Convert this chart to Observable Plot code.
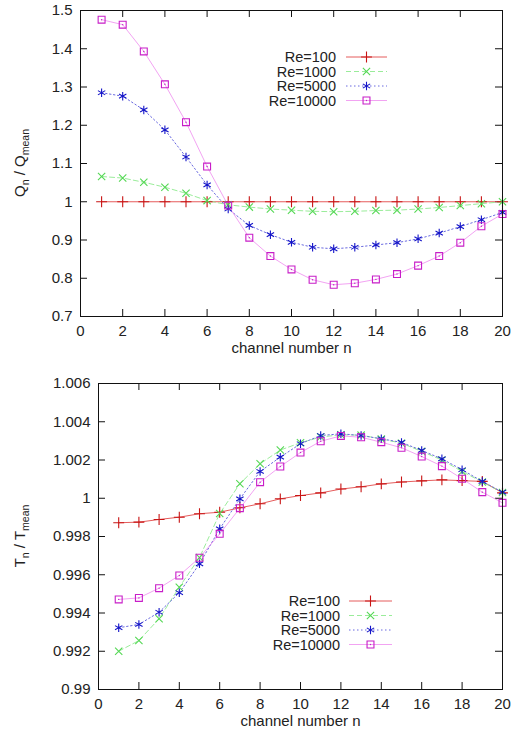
<!DOCTYPE html>
<html><head><meta charset="utf-8">
<script src="https://cdn.jsdelivr.net/npm/d3@7"></script>
<script src="https://cdn.jsdelivr.net/npm/@observablehq/plot@0.6"></script>
<style>
body{margin:0;background:#fff}
#chart svg{display:block}
</style>
</head><body><div id="chart"></div>
<script>
// ---- data ----
const channels = [1,2,3,4,5,6,7,8,9,10,11,12,13,14,15,16,17,18,19,20];
const seriesNames = ["Re=100","Re=1000","Re=5000","Re=10000"];

const qRe100   = [1.000,1.000,1.000,1.000,1.000,1.000,1.000,1.000,1.000,1.000,1.000,1.000,1.000,1.000,1.000,1.000,1.000,1.000,1.000,1.000];
const qRe1000  = [1.066,1.062,1.051,1.038,1.022,1.003,0.992,0.986,0.981,0.978,0.975,0.974,0.975,0.977,0.978,0.981,0.985,0.990,0.995,1.000];
const qRe5000  = [1.285,1.276,1.240,1.188,1.117,1.044,0.981,0.938,0.914,0.894,0.881,0.877,0.881,0.887,0.893,0.903,0.918,0.935,0.953,0.972];
const qRe10000 = [1.476,1.463,1.393,1.307,1.208,1.092,0.990,0.906,0.858,0.823,0.796,0.783,0.787,0.797,0.811,0.833,0.858,0.893,0.936,0.968];

const tRe100   = [0.99872,0.99875,0.99889,0.99901,0.99919,0.99927,0.99950,0.99971,0.99997,1.00014,1.00028,1.00048,1.00060,1.00075,1.00085,1.00091,1.00096,1.00092,1.00088,1.00028];
const tRe1000  = [0.99200,0.99256,0.99370,0.99535,0.99690,0.99920,1.00076,1.00180,1.00252,1.00290,1.00320,1.00332,1.00330,1.00310,1.00288,1.00245,1.00200,1.00140,1.00085,1.00030];
const tRe5000  = [0.99323,0.99340,0.99404,0.99506,0.99657,0.99840,0.99997,1.00140,1.00215,1.00285,1.00328,1.00337,1.00328,1.00311,1.00292,1.00250,1.00206,1.00149,1.00088,1.00032];
const tRe10000 = [0.99471,0.99479,0.99530,0.99596,0.99689,0.99814,0.99948,1.00084,1.00166,1.00239,1.00298,1.00326,1.00319,1.00293,1.00264,1.00218,1.00168,1.00102,1.00032,0.99976];

const xTicks = [0,2,4,6,8,10,12,14,16,18,20];
const qTicks = [0.7,0.8,0.9,1.0,1.1,1.2,1.3,1.4,1.5];
const tTicks = [0.990,0.992,0.994,0.996,0.998,1.000,1.002,1.004,1.006];
const xLabel = "channel number n";

// ---- styles ----
const styles = [
  {symbol:"plus",     r:3.6, marker:"#c81414", line:"#e24a4a", dash:null,      lw:0.9},
  {symbol:"times",    r:3.4, marker:"#55d855", line:"#8fea8f", dash:"5,3",     lw:0.9},
  {symbol:"asterisk", r:4.0, marker:"#1515c8", line:"#6a6ae0", dash:"1.5,2.5", lw:1.0},
  {symbol:"square2",  r:4.4, marker:"#c81ec8", line:"#ef8cef", dash:null,      lw:0.8}
];
const font = "'Liberation Sans', Arial, Helvetica, sans-serif";
const W = 518, MR = 16;

function rowsOf(arrs){
  const rows = [];
  arrs.forEach((arr,i)=>arr.forEach((v,j)=>rows.push({s:i, n:channels[j], v})));
  return rows;
}

function panel(o){
  const rows = rowsOf(o.series);
  const fh = o.height - o.marginTop - o.marginBottom;
  const fw = W - o.marginLeft - MR;
  const marks = [
    Plot.axisX(xTicks, {tickSize:0, tickPadding:9, label:null}),
    Plot.axisY(o.yTicks, {tickSize:0, tickPadding:8, label:null, tickFormat: d => String(+d.toFixed(3))}),
    Plot.tickX(xTicks, {x:d=>d, insetTop: fh-7, stroke:"#111"}),
    Plot.tickX(xTicks, {x:d=>d, insetBottom: fh-7, stroke:"#111"}),
    Plot.tickY(o.yTicks, {y:d=>d, insetRight: fw-7, stroke:"#111"}),
    Plot.tickY(o.yTicks, {y:d=>d, insetLeft: fw-7, stroke:"#111"}),
    Plot.text([xLabel], {frameAnchor:"bottom", dy:36, fontSize:15, fill:"#222"})
  ];
  styles.forEach((st,i)=>{
    const d = rows.filter(r=>r.s===i);
    marks.push(Plot.line(d, {x:"n", y:"v", stroke:st.line, strokeWidth:st.lw, strokeDasharray:st.dash}));
  });
  styles.forEach((st,i)=>{
    const d = rows.filter(r=>r.s===i);
    marks.push(Plot.dot(d, {x:"n", y:"v", symbol:()=>st.symbol, r:st.r, stroke:st.marker, fill:"none", strokeWidth:1.1}));
    if (st.symbol==="square2") marks.push(Plot.dot(d, {x:"n", y:"v", r:0.7, fill:st.marker, stroke:"none"}));
  });
  marks.push(Plot.frame({stroke:"#111", strokeWidth:1}));
  const svg = Plot.plot({
    width: W, height: o.height,
    marginLeft: o.marginLeft, marginRight: MR, marginTop: o.marginTop, marginBottom: o.marginBottom,
    x: {domain:[0,20]},
    y: {domain:o.yDomain},
    symbol: {type:"identity"},
    style: {fontFamily: font, fontSize:"15px", color:"#222", background:"#fff"},
    marks
  });
  const s = d3.select(svg);
  // y label with subscripts
  const mid = o.marginTop + fh/2;
  const t = s.append("text")
    .attr("transform", `translate(25,${mid}) rotate(-90)`)
    .attr("text-anchor","middle").attr("fill","#222")
    .style("font-family", font).style("font-size","15px");
  t.append("tspan").text(o.yLetter);
  t.append("tspan").attr("dy",4).style("font-size","10.5px").text("n");
  t.append("tspan").attr("dy",-4).text(" / " + o.yLetter);
  t.append("tspan").attr("dy",4).style("font-size","10.5px").text("mean");
  // legend
  const lg = s.append("g").style("font-family",font).style("font-size","14.5px");
  const symMap = {plus:d3.symbolPlus, times:d3.symbolTimes, asterisk:d3.symbolAsterisk, square2:d3.symbolSquare2};
  seriesNames.forEach((name,i)=>{
    const st = styles[i];
    const y = o.legend.y0 + i*o.legend.dy;
    lg.append("text").attr("x",o.legend.textX).attr("y",y).attr("dy","0.35em")
      .attr("text-anchor","end").attr("fill","#222").text(name);
    lg.append("line").attr("x1",o.legend.x1).attr("x2",o.legend.x2).attr("y1",y).attr("y2",y)
      .attr("stroke",st.line).attr("stroke-width",st.lw).attr("stroke-dasharray",st.dash);
    lg.append("path").attr("transform",`translate(${(o.legend.x1+o.legend.x2)/2},${y})`)
      .attr("d", d3.symbol(symMap[st.symbol], Math.PI*st.r*st.r)())
      .attr("fill","none").attr("stroke",st.marker).attr("stroke-width",1.1);
    if (st.symbol==="square2") lg.append("circle").attr("cx",(o.legend.x1+o.legend.x2)/2).attr("cy",y).attr("r",0.7).attr("fill",st.marker);
  });
  return svg;
}

const topPanel = panel({
  series:[qRe100,qRe1000,qRe5000,qRe10000], yDomain:[0.7,1.5], yTicks:qTicks,
  marginLeft:80, marginTop:10, marginBottom:54, height:370, yLetter:"Q",
  legend:{textX:336, x1:346, x2:387, y0:57, dy:14.5}
});
const bottomPanel = panel({
  series:[tRe100,tRe1000,tRe5000,tRe10000], yDomain:[0.990,1.006], yTicks:tTicks,
  marginLeft:98, marginTop:13, marginBottom:46, height:365, yLetter:"T",
  legend:{textX:340, x1:349, x2:392, y0:231, dy:14.5}
});
const c = document.getElementById("chart");
c.appendChild(topPanel);
c.appendChild(bottomPanel);
</script>
</body></html>
